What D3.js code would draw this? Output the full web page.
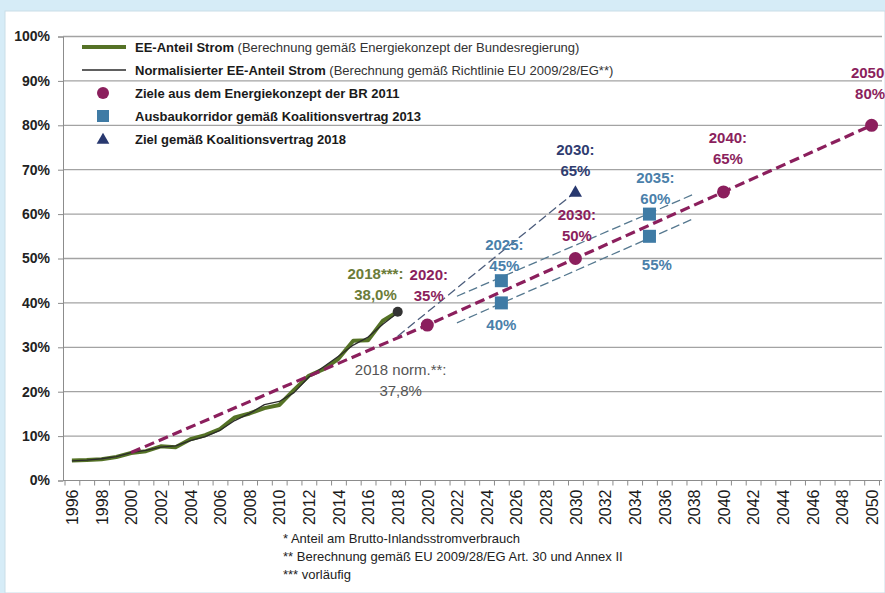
<!DOCTYPE html>
<html>
<head>
<meta charset="utf-8">
<script src="https://cdn.jsdelivr.net/npm/d3@7"></script>
<style>
  body { margin: 0; background: #d6ecf7; }
  svg { display: block; }
  text { font-family: "Liberation Sans", Arial, sans-serif; }
</style>
</head>
<body>
<script>
var w = 885,
    h = 593;

// measured shares in percent
var years = [1996, 1997, 1998, 1999, 2000, 2001, 2002, 2003, 2004, 2005, 2006, 2007,
             2008, 2009, 2010, 2011, 2012, 2013, 2014, 2015, 2016, 2017, 2018];
var eeShare = [4.5, 4.6, 4.8, 5.3, 6.2, 6.6, 7.7, 7.5, 9.3, 10.2, 11.6, 14.2,
               15.1, 16.3, 17.0, 20.4, 23.6, 25.1, 27.4, 31.5, 31.6, 36.0, 38.0];
var eeNorm = [4.4, 4.6, 4.9, 5.4, 6.3, 6.8, 7.5, 7.8, 9.0, 9.9, 11.3, 13.5,
              15.1, 17.1, 17.8, 19.8, 23.3, 25.6, 28.0, 30.5, 32.3, 35.2, 37.8];

// targets
var goalYears = [2000, 2020, 2030, 2040, 2050];
var goalValues = [6.3, 35, 50, 65, 80];
var corridorYears = [2025, 2025, 2035, 2035];
var corridorValues = [40, 45, 55, 60];
var target2018 = [[2018, 32.5], [2030, 65]];
var corridorUpper = [[2022, 41.5], [2038, 64.5]];
var corridorLower = [[2022, 35.5], [2038, 59]];

var yTicks = [0, 10, 20, 30, 40, 50, 60, 70, 80, 90, 100];
var xLabels = d3.range(1996, 2051, 2);

var annotations = [
  {lines: ["2018***:", "38,0%"], year: 2016.5, pct: 46.4, color: "#6b7c38", bold: true},
  {lines: ["2020:", "35%"], year: 2020.1, pct: 46.2, color: "#8b1f5d", bold: true},
  {lines: ["2018 norm.**:", "37,8%"], year: 2018.2, pct: 24.8, color: "#555555", bold: false},
  {lines: ["2025:", "45%"], year: 2025.2, pct: 53.0, color: "#4a80aa", bold: true},
  {lines: ["40%"], year: 2025.0, pct: 35.0, color: "#4a80aa", bold: true},
  {lines: ["2030:", "65%"], year: 2030.0, pct: 74.4, color: "#2f3c70", bold: true},
  {lines: ["2030:", "50%"], year: 2030.1, pct: 59.8, color: "#8b1f5d", bold: true},
  {lines: ["2035:", "60%"], year: 2035.4, pct: 68.1, color: "#4a80aa", bold: true},
  {lines: ["55%"], year: 2035.5, pct: 48.5, color: "#4a80aa", bold: true},
  {lines: ["2040:", "65%"], year: 2040.3, pct: 77.1, color: "#8b1f5d", bold: true},
  {lines: ["2050:", "80%"], year: 2049.9, pct: 91.8, color: "#8b1f5d", bold: true}
];

var legendItems = [
  {bold: "EE-Anteil Strom", normal: " (Berechnung gemäß Energiekonzept der Bundesregierung)", type: "green"},
  {bold: "Normalisierter EE-Anteil Strom", normal: " (Berechnung gemäß Richtlinie EU 2009/28/EG**)", type: "dark"},
  {bold: "Ziele aus dem Energiekonzept der BR 2011", normal: "", type: "circle"},
  {bold: "Ausbaukorridor gemäß Koalitionsvertrag 2013", normal: "", type: "square"},
  {bold: "Ziel gemäß Koalitionsvertrag 2018", normal: "", type: "triangle"}
];

var footnotes = [
  "* Anteil am Brutto-Inlandsstromverbrauch",
  "** Berechnung gemäß EU 2009/28/EG Art. 30 und Annex II",
  "*** vorläufig"
];

var purple = "#8b1f5d",
    blue = "#3f7ba5",
    navy = "#28386f";

var svg = d3.select("body").append("svg").attr("width", w).attr("height", h);

svg.append("rect")
  .attr("x", 5).attr("y", 11).attr("width", w - 5).attr("height", h - 11)
  .attr("fill", "#ffffff").attr("stroke", "#c9dde8");

var x = d3.scaleLinear().domain([1995.5, 2050.5]).range([64.5, 879]);
var y = d3.scaleLinear().domain([0, 100]).range([480.5, 36.5]);

// grid
svg.append("g").selectAll("line")
  .data(yTicks.slice(1))
  .enter().append("line")
  .attr("x1", 63).attr("x2", 882)
  .attr("y1", function(d) { return y(d); })
  .attr("y2", function(d) { return y(d); })
  .attr("stroke", "#a3a3a3").attr("stroke-width", 1.3);

// y axis
var yAxis = svg.append("g")
  .attr("transform", "translate(63,0)")
  .call(d3.axisLeft(y).tickValues(yTicks).tickSize(5).tickPadding(8)
    .tickFormat(function(d) { return d + "%"; }));
yAxis.select(".domain").attr("stroke", "#8c8c8c");
yAxis.selectAll(".tick line").attr("stroke", "#8c8c8c");
yAxis.selectAll("text")
  .attr("font-size", 14).attr("font-weight", "bold").attr("fill", "#222")
  .attr("font-family", "Liberation Sans, Arial, sans-serif");

// x axis: ticks between years, labels on even years
var xTicks = svg.append("g")
  .attr("transform", "translate(0," + y(0) + ")")
  .call(d3.axisBottom(x).tickValues(d3.range(1995.5, 2051, 1)).tickSize(5).tickFormat(""));
xTicks.select(".domain").attr("stroke", "#8c8c8c").attr("d", "M63,0H882");
xTicks.selectAll(".tick line").attr("stroke", "#8c8c8c");

var xAxis = svg.append("g")
  .attr("transform", "translate(0," + y(0) + ")")
  .call(d3.axisBottom(x).tickValues(xLabels).tickSize(0).tickFormat(d3.format("d")));
xAxis.select(".domain").remove();
xAxis.selectAll("text")
  .attr("transform", "rotate(-90)")
  .attr("x", -9).attr("y", 0).attr("dy", "0.36em")
  .attr("text-anchor", "end")
  .attr("font-size", 16).attr("fill", "#1a1a1a")
  .attr("font-family", "Liberation Sans, Arial, sans-serif");

var lineFn = d3.line()
  .x(function(d) { return x(d[0]); })
  .y(function(d) { return y(d[1]); });

// thin dashed corridor / target lines
[corridorUpper, corridorLower].forEach(function(seg) {
  svg.append("path")
    .attr("d", lineFn(seg))
    .attr("fill", "none").attr("stroke", "#55788f")
    .attr("stroke-width", 1.3).attr("stroke-dasharray", "9,4");
});
svg.append("path")
  .attr("d", lineFn(target2018))
  .attr("fill", "none").attr("stroke", "#4c5d7c")
  .attr("stroke-width", 1.3).attr("stroke-dasharray", "9,4");

// history lines
svg.append("path")
  .attr("d", lineFn(years.map(function(d, i) { return [d, eeShare[i]]; })))
  .attr("fill", "none").attr("stroke", "#557226").attr("stroke-width", 4)
  .attr("stroke-linejoin", "round");
svg.append("path")
  .attr("d", lineFn(years.map(function(d, i) { return [d, eeNorm[i]]; })))
  .attr("fill", "none").attr("stroke", "#2b2b2b").attr("stroke-width", 1.3)
  .attr("stroke-linejoin", "round");

svg.append("circle")
  .attr("cx", x(years[years.length - 1]))
  .attr("cy", y(eeShare[eeShare.length - 1]))
  .attr("r", 5).attr("fill", "#333333");

// goal line
svg.append("path")
  .attr("d", lineFn(goalYears.map(function(d, i) { return [d, goalValues[i]]; })))
  .attr("fill", "none").attr("stroke", purple).attr("stroke-width", 3.2)
  .attr("stroke-dasharray", "10,5");

svg.selectAll(".goal")
  .data(goalYears.slice(1))
  .enter().append("circle")
  .attr("class", "goal")
  .attr("cx", function(d) { return x(d); })
  .attr("cy", function(d, i) { return y(goalValues[i + 1]); })
  .attr("r", 6.5).attr("fill", purple);

svg.selectAll(".corr")
  .data(corridorYears)
  .enter().append("rect")
  .attr("class", "corr")
  .attr("x", function(d) { return x(d) - 6.5; })
  .attr("y", function(d, i) { return y(corridorValues[i]) - 6.5; })
  .attr("width", 13).attr("height", 13)
  .attr("fill", blue);

svg.append("path")
  .attr("d", d3.symbol().type(d3.symbolTriangle).size(75)())
  .attr("transform", "translate(" + x(target2018[1][0]) + "," + (y(target2018[1][1]) + 1) + ")")
  .attr("fill", navy);

// annotations
annotations.forEach(function(a) {
  var t = svg.append("text")
    .attr("text-anchor", "middle")
    .attr("font-size", 15)
    .attr("font-weight", a.bold ? "bold" : "normal")
    .attr("fill", a.color);
  a.lines.forEach(function(l, i) {
    t.append("tspan")
      .attr("x", x(a.year))
      .attr("y", y(a.pct) + 5 + i * 21)
      .text(l);
  });
});

// legend
var leg = svg.append("g");
legendItems.forEach(function(d, i) {
  var cy = 47 + i * 23;
  if (d.type === "green") {
    leg.append("line").attr("x1", 82).attr("x2", 126).attr("y1", cy).attr("y2", cy)
      .attr("stroke", "#557226").attr("stroke-width", 4);
  } else if (d.type === "dark") {
    leg.append("line").attr("x1", 82).attr("x2", 126).attr("y1", cy).attr("y2", cy)
      .attr("stroke", "#2b2b2b").attr("stroke-width", 1.5);
  } else if (d.type === "circle") {
    leg.append("circle").attr("cx", 103).attr("cy", cy).attr("r", 6).attr("fill", purple);
  } else if (d.type === "square") {
    leg.append("rect").attr("x", 97).attr("y", cy - 6).attr("width", 12).attr("height", 12)
      .attr("fill", blue);
  } else {
    leg.append("path").attr("d", d3.symbol().type(d3.symbolTriangle).size(70)())
      .attr("transform", "translate(103," + (cy + 1) + ")").attr("fill", navy);
  }
  var t = leg.append("text").attr("x", 135).attr("y", cy + 4.5)
    .attr("font-size", 13).attr("fill", "#1a1a1a");
  t.append("tspan").attr("font-weight", "bold").text(d.bold);
  t.append("tspan").attr("font-weight", "normal").attr("fill", "#333").text(d.normal);
});

// footnotes
svg.selectAll(".foot")
  .data(footnotes)
  .enter().append("text")
  .attr("class", "foot")
  .attr("x", 283)
  .attr("y", function(d, i) { return 543 + i * 18; })
  .attr("font-size", 13).attr("fill", "#222")
  .text(function(d) { return d; });
</script>
</body>
</html>
